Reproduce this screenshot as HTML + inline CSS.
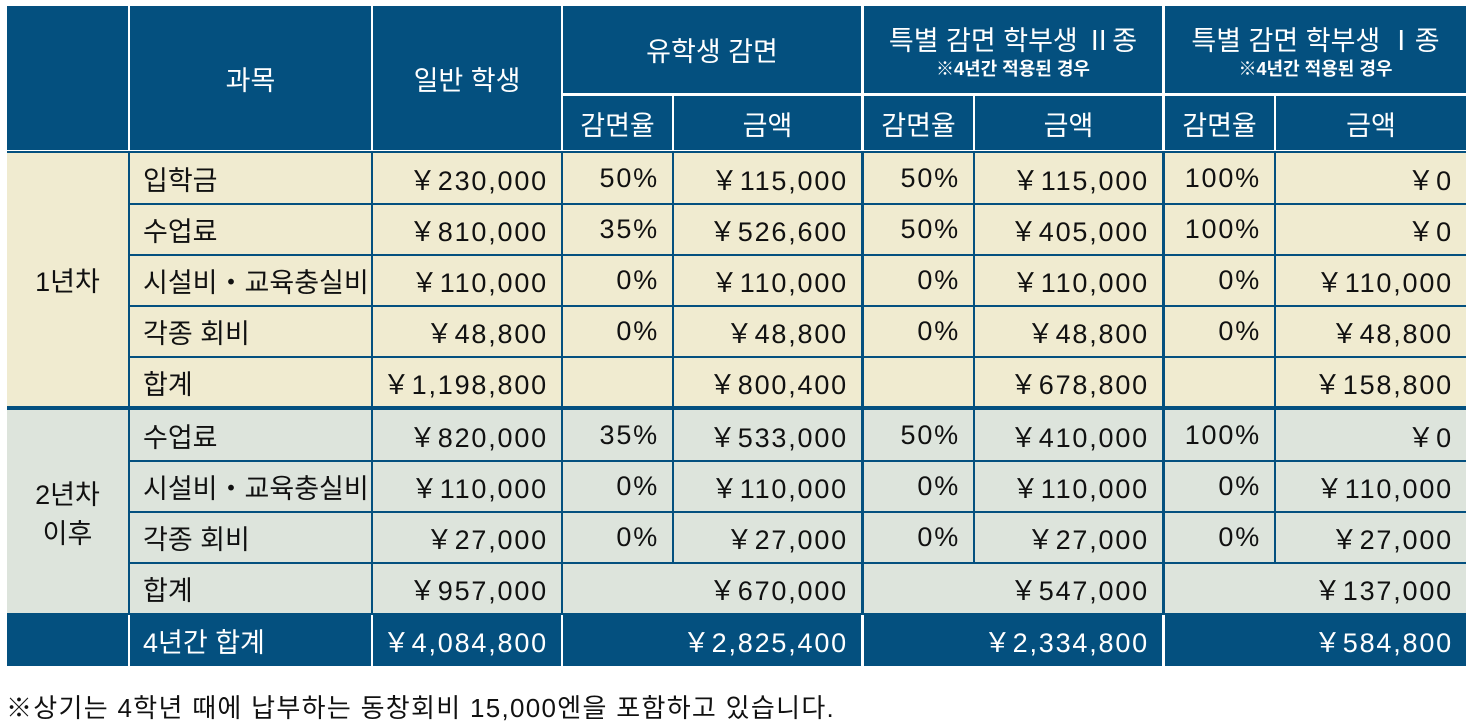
<!DOCTYPE html>
<html><head><meta charset="utf-8">
<style>
body{margin:0;width:1477px;height:723px;background:#fff;position:relative;overflow:hidden;font-family:"Liberation Sans","Noto Sans CJK KR",sans-serif;}
.c{position:absolute;box-sizing:border-box;display:flex;align-items:center;font-size:27px;color:#111;white-space:nowrap;}
.r{justify-content:flex-end;padding-right:13px;letter-spacing:1.8px;}
.l{justify-content:flex-start;padding-left:13px;}
.m{justify-content:center;text-align:center;}
.h{color:#fff;}
.note{display:block;font-size:18px;font-weight:600;line-height:22px;}
#foot{position:absolute;left:6px;top:688px;font-size:26px;letter-spacing:1.3px;color:#111;white-space:nowrap;}
</style></head><body>
<div id="tbl"></div>
<div id="foot">※상기는 4학년 때에 납부하는 동창회비 15,000엔을 포함하고 있습니다.</div>
<script>
var N='#04507f',B='#f0ebd0',G='#dde4dc',W='#ffffff';
var L=[7,130,373,563,674,864,975,1165,1276];
var R=[128,371,561,672,861,973,1162,1274,1466];
var Y1=[[153,203],[205,254],[256,305],[307,356],[358,406]];
var Y2=[[410,460],[462,511],[513,562],[564,613]];
var rows1=[["입학금","￥230,000","50%","￥115,000","50%","￥115,000","100%","￥0"],
["수업료","￥810,000","35%","￥526,600","50%","￥405,000","100%","￥0"],
["시설비・교육충실비","￥110,000","0%","￥110,000","0%","￥110,000","0%","￥110,000"],
["각종 회비","￥48,800","0%","￥48,800","0%","￥48,800","0%","￥48,800"],
["합계","￥1,198,800","","￥800,400","","￥678,800","","￥158,800"]];
var rows2=[["수업료","￥820,000","35%","￥533,000","50%","￥410,000","100%","￥0"],
["시설비・교육충실비","￥110,000","0%","￥110,000","0%","￥110,000","0%","￥110,000"],
["각종 회비","￥27,000","0%","￥27,000","0%","￥27,000","0%","￥27,000"]];
var tot2=["합계","￥957,000","￥670,000","￥547,000","￥137,000"];
var fin=["4년간 합계","￥4,084,800","￥2,825,400","￥2,334,800","￥584,800"];
var t=document.getElementById('tbl');
function cell(x1,x2,y1,y2,bg,txt,cls,name){
 var d=document.createElement('div');
 d.className='c '+cls;
 d.style.left=x1+'px';d.style.top=y1+'px';d.style.width=(x2-x1)+'px';d.style.height=(y2-y1)+'px';d.style.background=bg;
 d.innerHTML=txt;
 
 
 t.appendChild(d);return d;
}
cell(7,1466,151,615,N,'','', 'grid-underlay');
cell(7,128,6,150,N,'','m h','header-blank');
cell(130,371,6,150,N,'과목','m h','header-subject');
cell(373,561,6,150,N,'일반 학생','m h','header-general');
var groups=[['유학생 감면',''],['특별 감면 학부생 Ⅱ종','<span class="note">※4년간 적용된 경우</span>'],['특별 감면 학부생 Ⅰ종','<span class="note">※4년간 적용된 경우</span>']];
for(var g=0;g<3;g++){
 var a=3+g*2;
 cell(L[a],R[a+1],6,93,N,'<div>'+groups[g][0]+groups[g][1]+'</div>','m h','header-group');
 cell(L[a],R[a],96,150,N,'감면율','m h','header-rate');
 cell(L[a+1],R[a+1],96,150,N,'금액','m h','header-amount');
}
cell(7,128,153,406,B,'1년차','m','year1-label');
cell(7,128,410,613,G,'2년차<br>이후','m','year2-label');
function bodyRow(vals,yy,bg){
 for(var i=0;i<8;i++){
  var cls=i==0?'l':'r';
  cell(L[i+1],R[i+1],yy[0],yy[1],bg,vals[i],cls,i==0?'item-label':'value-cell');
 }
}
for(var i=0;i<rows1.length;i++)bodyRow(rows1[i],Y1[i],B);
for(var i=0;i<rows2.length;i++)bodyRow(rows2[i],Y2[i],G);
var yy=Y2[3];
cell(L[1],R[1],yy[0],yy[1],G,tot2[0],'l','item-label');
cell(L[2],R[2],yy[0],yy[1],G,tot2[1],'r','value-cell');
for(var g=0;g<3;g++){var a=3+g*2;cell(L[a],R[a+1],yy[0],yy[1],G,tot2[g+2],'r','value-cell');}
cell(7,128,615,666,N,'','m h','final-blank');
cell(L[1],R[1],615,666,N,fin[0],'l h','final-label');
cell(L[2],R[2],615,666,N,fin[1],'r h','final-value');
for(var g=0;g<3;g++){var a=3+g*2;cell(L[a],R[a+1],615,666,N,fin[g+2],'r h','final-value');}
</script>
</body></html>
